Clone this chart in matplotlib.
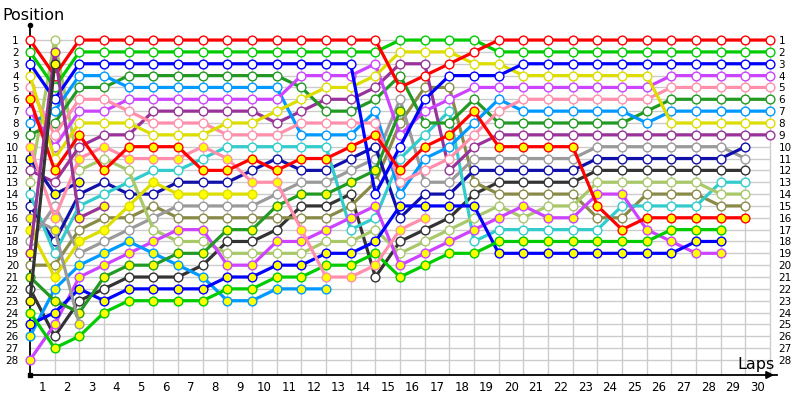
import numpy as np
import matplotlib
matplotlib.use('Agg')
import matplotlib.pyplot as plt

n = None  # driver no longer running

laps = np.arange(0, 31)
positions = np.arange(1, 29)

# position per lap (index 0 = grid)
red = [1, 4, 1, 1, 1, 1, 1, 1, 1, 1, 1, 1, 1, 1, 1, 5, 4, 3, 2, 1, 1, 1, 1, 1, 1, 1, 1, 1, 1, 1, 1]
green = [2, 5, 2, 2, 2, 2, 2, 2, 2, 2, 2, 2, 2, 2, 2, 1, 1, 1, 1, 2, 2, 2, 2, 2, 2, 2, 2, 2, 2, 2, 2]
blue = [3, 6, 3, 3, 3, 3, 3, 3, 3, 3, 3, 3, 3, 3, 14, 10, 6, 4, 4, 4, 3, 3, 3, 3, 3, 3, 3, 3, 3, 3, 3]
yellow = [4, 11, 8, 8, 8, 9, 9, 9, 8, 8, 7, 6, 5, 5, 4, 2, 2, 2, 3, 3, 4, 4, 4, 4, 4, 4, 8, 8, 8, 8, 8]
pink = [5, 9, 6, 6, 7, 8, 8, 8, 9, 9, 9, 8, 8, 8, 8, 13, 12, 11, 9, 7, 6, 6, 6, 6, 6, 6, 5, 5, 5, 5, 5]
violet = [7, 10, 7, 7, 6, 6, 6, 6, 6, 6, 6, 4, 4, 4, 3, 9, 7, 6, 5, 5, 5, 5, 5, 5, 5, 5, 4, 4, 4, 4, 4]
azure = [8, 7, 4, 4, 5, 5, 5, 5, 5, 5, 5, 9, 9, 9, 7, 14, 11, 10, 8, 6, 7, 7, 7, 7, 7, 8, 7, 7, 7, 7, 7]
dkgreen = [9, 8, 5, 5, 4, 4, 4, 4, 4, 4, 4, 5, 7, 7, 6, 4, 8, 8, 6, 8, 8, 8, 8, 8, 8, 7, 6, 6, 6, 6, 6]
purple = [12, 13, 10, 9, 9, 7, 7, 7, 7, 7, 8, 7, 6, 6, 5, 3, 3, 12, 10, 9, 9, 9, 9, 9, 9, 9, 9, 9, 9, 9, 9]
ltgreen = [13, 1, 12, 11, 12, 17, 18, 18, 19, 19, 19, 19, 18, 18, 17, 19, 18, 17, 16, 15, 16, 15, 15,
           13, 13, 13, 13, 13, 14, 14, n]
cyan = [14, 19, 15, 14, 13, 12, 12, 11, 10, 10, 10, 10, 10, 17, 16, 11, 9, 7, 18, 17, 17, 17, 17, 17,
        15, 15, 15, 15, 13, 13, n]
navy = [15, 18, 14, 13, 14, 14, 13, 13, 13, 12, 11, 12, 12, 11, 10, 16, 14, 14, 12, 12, 12, 12, 12,
        11, 11, 11, 11, 11, 11, 10, n]
gray = [18, 15, 19, 18, 17, 16, 15, 15, 15, 15, 14, 13, 13, 12, 11, 6, 13, 13, 11, 11, 11, 11, 11,
        10, 10, 10, 10, 10, 10, 11, n]
olive = [20, 20, 17, 16, 16, 15, 16, 16, 16, 16, 16, 16, 16, 15, 13, 8, 5, 5, 13, 14, 14, 14, 14,
         16, 16, 14, 14, 14, 15, 15, n]
black = [22, 26, 23, 22, 21, 21, 21, 20, 18, 18, 17, 15, 15, 14, 21, 18, 17, 16, 14, 13, 13, 13, 13,
         12, 12, 12, 12, 12, 12, 12, n]

# second group (same colours, yellow markers)
red_b = [6, 12, 9, 12, 10, 10, 10, 12, 12, 11, 12, 11, 11, 10, 9, 12, 10, 9, 7, 10, 10, 10, 10,
         15, 17, 16, 16, 16, 16, 16, n]
pink_b = [10, 16, 11, 10, 11, 11, 11, 10, 11, 13, 13, 17, 21, 21, 20, 17, 16] + [n] * 14
navy_b = [11, 14, 13] + [n] * 28
gray_b = [16, 17, 25] + [n] * 28
yellow_b = [17, 21, 18, 17, 15, 13, 14, 14, 14, 14] + [n] * 21
purple_b = [19, 2, 16, 15] + [n] * 27
dkgreen_b = [21, 23, 24, 21, 20, 20, 19, 19, 17, 17, 15, 14, 14, 13, 12, 7] + [n] * 15
black_b = [23, 3] + [n] * 29
green_b = [24, 27, 26, 24, 23, 23, 23, 23, 22, 22, 21, 21, 20, 20, 19, 21, 20, 19, 19, 18, 18, 18,
           18, 18, 18, 18, 17, 17, 17, n, n]
blue_b = [25, 24, 22, 23, 22, 22, 22, 22, 21, 21, 20, 20, 19, 19, 18, 15, 15, 15, 15, 19, 19, 19,
          19, 19, 19, 19, 19, 18, 18, n, n]
azure_b = [26, 22, 20, 19, 18, 19, 20, 21, 23, 23, 22, 22, 22] + [n] * 18
violet_b = [28, 25, 21, 20, 19, 18, 17, 17, 20, 20, 18, 18, 17, 16, 15, 20, 19, 18, 17, 16, 15, 16,
            16, 14, 14, 17, 18, 19, 19, n, n]

# (data, line colour, marker fill)
drivers = [
    (black, '#333333', 'white'), (olive, '#8a8a48', 'white'), (gray, '#9a9a9a', 'white'),
    (navy, '#1111aa', 'white'), (cyan, '#33cccc', 'white'), (ltgreen, '#a8c86a', 'white'),
    (purple, '#993399', 'white'), (dkgreen, '#229922', 'white'), (azure, '#0099ff', 'white'),
    (violet, '#cc44ff', 'white'), (pink, '#ff8fab', 'white'), (yellow, '#dddd00', 'white'),
    (blue, '#0000ff', 'white'), (green, '#00cc00', 'white'), (red, '#ff0000', 'white'),
    (violet_b, '#cc44ff', '#ffff00'), (azure_b, '#0099ff', '#ffff00'), (blue_b, '#0000ff', '#ffff00'),
    (green_b, '#00cc00', '#ffff00'), (dkgreen_b, '#229922', '#ffff00'), (yellow_b, '#dddd00', '#ffff00'),
    (gray_b, '#9a9a9a', '#ffff00'), (navy_b, '#1111aa', '#ffff00'), (pink_b, '#ff8fab', '#ffff00'),
    (red_b, '#ff0000', '#ffff00'), (purple_b, '#993399', '#ffff00'), (black_b, '#333333', '#ffff00'),
]

fig = plt.figure(figsize=(8, 4), dpi=100)
ax = fig.add_axes([30 / 800, 25 / 400, 747 / 800, 350 / 400])

ax.set_xlim(0, 747 / 24.67)
ax.set_ylim(29.27, -0.27)

# grid
ax.hlines(positions, 0, 30, color='#cccccc', lw=1, zorder=0)
ax.vlines(laps[1:], 1, 29.27, color='#cccccc', lw=1, zorder=0)

for pos, col, fill in drivers:
    y = np.array(pos, dtype=float)
    ax.plot(laps, y, '-o', color=col, lw=2.3, ms=6.3, mfc=fill, mec=col, mew=1.0,
            clip_on=False, zorder=3)

# axes look
for s in ['top', 'right']:
    ax.spines[s].set_visible(False)
ax.spines['left'].set_linewidth(1.3)
ax.spines['bottom'].set_linewidth(1.3)
ax.plot(0, 1, 'o', ms=3, color='black', transform=ax.transAxes, clip_on=False)
ax.plot(0, 0, 's', ms=2.5, color='black', transform=ax.transAxes, clip_on=False)
ax.annotate('', xy=(1.0, 0), xytext=(0.985, 0), xycoords='axes fraction',
            arrowprops=dict(arrowstyle='-|>', color='black', lw=1.3, mutation_scale=11))

ax.set_yticks(positions)
ax.set_yticklabels([str(p) for p in positions])
ax.tick_params(axis='y', length=0, pad=8, labelsize=7.5)
ax.set_xticks(laps[1:] - 0.5)
ax.set_xticklabels([str(l) for l in laps[1:]])
ax.tick_params(axis='x', length=0, pad=4, labelsize=8.5)

ax2 = ax.twinx()
ax2.set_ylim(29.27, -0.27)
ax2.set_yticks(positions)
ax2.set_yticklabels([str(p) for p in positions])
ax2.tick_params(axis='y', length=0, pad=1, labelsize=7.5)
for s in ax2.spines.values():
    s.set_visible(False)

fig.text(2 / 800, 1 - 15 / 400, 'Position', va='center', ha='left', fontsize=11.5)
fig.text(775 / 800, 1 - 364 / 400, 'Laps', va='center', ha='right', fontsize=11.5)

fig.savefig('out.png', dpi=100)
